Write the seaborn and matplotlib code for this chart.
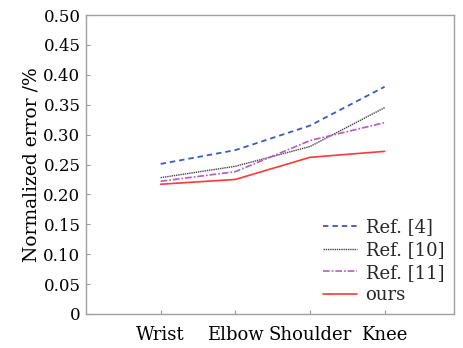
import matplotlib
matplotlib.use("Agg")
import matplotlib.pyplot as plt
import seaborn as sns
import pandas as pd

joints = ["Wrist", "Elbow", "Shoulder", "Knee"]
ref4 = [0.251, 0.274, 0.315, 0.380]
ref10 = [0.228, 0.247, 0.280, 0.345]
ref11 = [0.222, 0.238, 0.290, 0.320]
ours = [0.217, 0.225, 0.262, 0.272]
series_names = ["Ref. [4]", "Ref. [10]", "Ref. [11]", "ours"]
yticks = [0, 0.05, 0.10, 0.15, 0.20, 0.25, 0.30, 0.35, 0.40, 0.45, 0.50]
ytick_labels = ["0", "0.05", "0.10", "0.15", "0.20", "0.25", "0.30", "0.35", "0.40", "0.45", "0.50"]

sns.set_theme(style="white")
plt.rcParams['font.family'] = ['DejaVu Serif']

fig = plt.figure(figsize=(4.64, 3.48), dpi=100)
ax = fig.add_axes([86/464, 1 - 314/348, (454-86)/464, (314-15)/348])

styles = [
    dict(color="#3a5bbf", linestyle=(0, (3.0, 2.2)), linewidth=1.3),
    dict(color="#444444", linestyle=(0, (1, 0.6)), linewidth=1.0),
    dict(color="#b55ac4", linestyle=(0, (4, 1.2, 1, 1.2)), linewidth=1.2),
    dict(color="#ff3838", linestyle="-", linewidth=1.2),
]
for name, vals, st in zip(series_names, [ref4, ref10, ref11, ours], styles):
    sns.lineplot(x=joints, y=vals, ax=ax, label=name, sort=False, **st)

ax.set_xlim(-1, 3.93)
ax.set_ylim(0, 0.5)
ax.set_yticks(yticks)
ax.set_yticklabels(ytick_labels)
ax.set_xticks(range(len(joints)))
ax.set_xticklabels(joints)
ax.set_ylabel("Normalized error /%", fontsize=13.5, color="black", labelpad=2)
ax.set_xlabel("")
ax.tick_params(axis="both", direction="in", length=3, width=0.8, color="#999999",
               labelsize=12, labelcolor="black", bottom=True, left=True, pad=4)
ax.tick_params(axis="x", pad=9, labelsize=13)
for s in ax.spines.values():
    s.set_color("#a0a0a0")
    s.set_linewidth(1.0)

leg = ax.legend(loc="lower right", frameon=False, fontsize=13, handlelength=1.9,
                handletextpad=0.45, labelspacing=0.25, borderaxespad=0.15)

fig.savefig("out.png", dpi=100)
